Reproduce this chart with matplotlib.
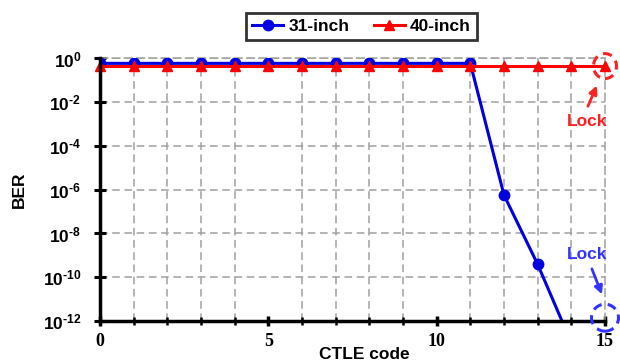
import matplotlib
matplotlib.use('Agg')
import matplotlib.pyplot as plt
import matplotlib.patches as mpatches
import matplotlib.transforms as mtransforms
import numpy as np

plt.rcParams['font.family'] = 'Liberation Sans'
plt.rcParams['font.weight'] = 'bold'
plt.rcParams['mathtext.fontset'] = 'custom'
plt.rcParams['mathtext.rm'] = 'Liberation Sans:bold'
plt.rcParams['mathtext.bf'] = 'Liberation Sans:bold'
plt.rcParams['mathtext.default'] = 'rm'

# data
ctle_31 = [0, 1, 2, 3, 4, 5, 6, 7, 8, 9, 10, 11, 12, 13, 14, 15]
ber_31 = [0.6, 0.6, 0.6, 0.6, 0.6, 0.6, 0.6, 0.6, 0.6, 0.6, 0.6, 0.6,
          5.7e-7, 3.9e-10, 1e-13, 1e-13]
ctle_40 = [0, 1, 2, 3, 4, 5, 6, 7, 8, 9, 10, 11, 12, 13, 14, 15]
ber_40 = [0.45] * 16

xtick_major = [0, 5, 10, 15]
ytick_exp = [0, -2, -4, -6, -8, -10, -12]
ytick_labels = [r'$10^{\text{%d}}$' % e for e in ytick_exp]

fig = plt.figure(figsize=(6.2, 3.62), dpi=100)
ax = fig.add_axes([0.1613, 0.1133, 0.8145, 0.7251])

ax.plot(ctle_31, ber_31, color='#0000e0', lw=2.2, marker='o', ms=7.5,
        label='31-inch', zorder=4)
ax.plot(ctle_40, ber_40, color='#ff0000', lw=2.2, marker='^', ms=7.5,
        label='40-inch', zorder=5, clip_on=False)

ax.set_yscale('log')
ax.set_xlim(0, 15)
ax.set_ylim(1e-12, 1)

ax.set_xticks(xtick_major)
ax.set_xticks(range(16), minor=True)
ax.set_xticklabels([str(t) for t in xtick_major], family='Liberation Serif',
                   fontweight='bold', fontsize=13)
ax.set_yticks([10.0 ** e for e in ytick_exp])
ax.set_yticks([], minor=True)
ax.set_yticklabels(ytick_labels, fontsize=12.5)

ax.tick_params(axis='x', which='major', direction='inout', length=7, width=2.5, pad=5)
ax.tick_params(axis='x', which='minor', direction='inout', length=6, width=1.8)
ax.tick_params(axis='y', which='major', direction='inout', length=9, width=2.2, pad=9)

ax.grid(True, which='major', axis='y', color='#a0a0a0', ls='--', lw=1.1, dashes=(5, 3))
ax.grid(True, which='minor', axis='x', color='#a0a0a0', ls='--', lw=1.1, dashes=(5, 3))
ax.set_axisbelow(True)

for s in ['left', 'bottom']:
    ax.spines[s].set_linewidth(2.5)
    ax.spines[s].set_zorder(6)
for s in ['top', 'right']:
    ax.spines[s].set_color('#a0a0a0')
    ax.spines[s].set_linewidth(1.1)
    ax.spines[s].set_linestyle((0, (5, 3)))

ax.set_ylabel('BER', fontsize=12.5, fontweight='bold')
ax.yaxis.set_label_coords(-0.145, 0.5)
ax.set_xlabel('CTLE code', fontsize=12.5, fontweight='bold')
ax.xaxis.set_label_coords(0.523, -0.098)

leg = ax.legend(loc='center', bbox_to_anchor=(0.583, 0.927),
                bbox_transform=fig.transFigure, ncol=2, fancybox=False,
                edgecolor='black', fontsize=12.5, handlelength=1.8,
                columnspacing=1.4, borderpad=0.35, handletextpad=0.3)
leg.get_frame().set_linewidth(2)

# lock markers
def dashed_ring(x, y, w, h, color):
    trans = fig.dpi_scale_trans + mtransforms.ScaledTranslation(x, y, ax.transData)
    e = mpatches.Ellipse((0, 0), w, h, transform=trans, fill=False,
                         edgecolor=color, lw=2.2, ls=(0, (3, 2)), clip_on=False,
                         zorder=7)
    fig.add_artist(e)

dashed_ring(15, 0.45, 0.23, 0.25, '#ff2020')
dashed_ring(15, 10 ** -11.85, 0.27, 0.27, '#3333ff')

ax.text(14.46, 10 ** -2.9, 'Lock', color='#ff2020', fontsize=12.5,
        fontweight='bold', ha='center', va='center')
ax.annotate('', xy=(14.79, 10 ** -1.12), xytext=(14.46, 10 ** -2.3),
            arrowprops=dict(arrowstyle='-|>', color='#ff2020', lw=2,
                            mutation_scale=12), annotation_clip=False)
ax.text(14.46, 10 ** -8.98, 'Lock', color='#3333ff', fontsize=12.5,
        fontweight='bold', ha='center', va='center')
ax.annotate('', xy=(14.94, 10 ** -10.9), xytext=(14.58, 10 ** -9.5),
            arrowprops=dict(arrowstyle='-|>', color='#3333ff', lw=2,
                            mutation_scale=12), annotation_clip=False)

fig.savefig('out.png', dpi=100)
